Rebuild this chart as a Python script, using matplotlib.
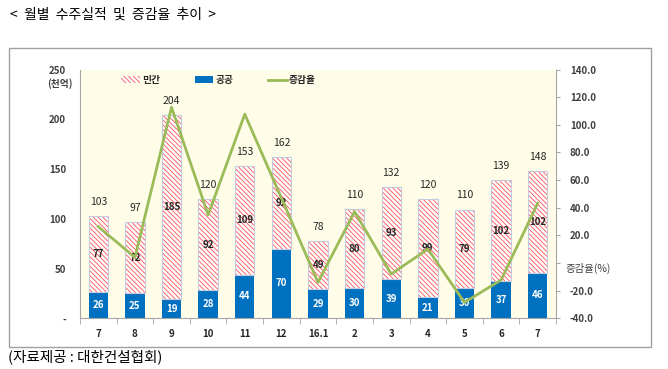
import numpy as np
import matplotlib
matplotlib.use("Agg")
import matplotlib.pyplot as plt
from matplotlib.patches import Rectangle
from matplotlib.lines import Line2D

plt.rcParams["font.family"] = ["Noto Sans CJK KR", "DejaVu Sans"]
plt.rcParams["hatch.linewidth"] = 0.6

# ── data ──────────────────────────────────────────────────────────────
months = ["7", "8", "9", "10", "11", "12", "16.1", "2", "3", "4", "5", "6", "7"]
private = [77, 72, 185, 92, 109, 92, 49, 80, 93, 99, 79, 102, 102]
public = [26, 25, 19, 28, 44, 70, 29, 30, 39, 21, 30, 37, 46]
totals = [103, 97, 204, 120, 153, 162, 78, 110, 132, 120, 110, 139, 148]
change = [26.3, 4.1, 112.7, 34.8, 107.7, 47.0, -14.0, 37.2, -8.0, 10.1, -28.5, -12.3, 43.2]
left_ticks = [0, 50, 100, 150, 200, 250]
left_tick_labels = ["-", "50", "100", "150", "200", "250"]
right_ticks = [-40, -20, 0, 20, 40, 60, 80, 100, 120, 140]

BLUE = "#0070C0"
RED = "#FF5050"
GREEN = "#9BBB59"
GRID = "#A6A6A6"
TXT = "#404040"
HATCH = "\\" * 7

fig = plt.figure(figsize=(6.68, 3.69), dpi=100)
ax = fig.add_axes([80 / 668, 1 - 318.3 / 369, 476 / 668, 248.8 / 369])
ax.set_facecolor("#FFFDE8")

x = np.arange(len(months))
w = 0.53

ax.bar(x, public, w, color=BLUE, linewidth=0, zorder=2)
ax.bar(x, private, w, bottom=public, color="white", edgecolor=RED,
       hatch=HATCH, linewidth=0, zorder=2)
ax.bar(x, private, w, bottom=public, fill=False, edgecolor="#C3CBE0",
       linewidth=0.8, zorder=2)

for i in range(len(months)):
    ax.text(x[i], public[i] / 2, str(public[i]), ha="center", va="center",
            color="white", fontsize=7, fontweight="bold", zorder=5)
    ax.text(x[i], public[i] + private[i] / 2, str(private[i]), ha="center",
            va="center", color="#262626", fontsize=7, fontweight="bold", zorder=5)
    ax.text(x[i], totals[i] + 14, str(totals[i]), ha="center", va="center",
            color="#262626", fontsize=7.5, zorder=5)

ax.set_xlim(-0.5, len(months) - 0.5)
ax.set_ylim(0, 250)
ax.set_yticks(left_ticks)
ax.set_yticklabels(left_tick_labels)
ax.set_xticks(x)
ax.set_xticklabels(months, fontweight="bold")
ax.set_xticks(np.arange(-0.5, len(months)), minor=True)
ax.tick_params(axis="x", which="major", length=0, pad=8, labelsize=7, labelcolor="#262626")
ax.tick_params(axis="x", which="minor", length=4, color=GRID, direction="out")
ax.tick_params(axis="y", length=0, pad=10, labelsize=7, labelcolor=TXT)
for lab in ax.get_yticklabels():
    lab.set_fontweight("bold")
for s in ["top", "right"]:
    ax.spines[s].set_visible(False)
for s in ["left", "bottom"]:
    ax.spines[s].set_color(GRID)
    ax.spines[s].set_linewidth(0.8)

ax2 = ax.twinx()
ax2.plot(x, change, color=GREEN, linewidth=2.0, zorder=4)
ax2.set_ylim(-40, 140)
ax2.set_yticks(right_ticks)
ax2.set_yticklabels(["" if t == 0 else f"{t:.1f}" for t in right_ticks])
ax2.tick_params(axis="y", length=3, color=GRID, pad=7, labelsize=7, labelcolor=TXT)
for lab in ax2.get_yticklabels():
    lab.set_fontweight("bold")
for s in ["top", "left", "bottom"]:
    ax2.spines[s].set_visible(False)
ax2.spines["right"].set_color(GRID)
ax2.spines["right"].set_linewidth(0.8)
ax2.text(1.02, 0, "증감율(%)", transform=ax2.get_yaxis_transform(),
         ha="left", va="top", fontsize=7.5, color=TXT)

# unit label
fig.text(60 / 668, 1 - 84 / 369, "(천억)", ha="center", va="center",
         fontsize=7, fontweight="bold", color=TXT)

# legend
handles = [
    Rectangle((0, 0), 1, 1, facecolor="white", edgecolor=RED, hatch=HATCH, linewidth=0),
    Rectangle((0, 0), 1, 1, facecolor=BLUE, linewidth=0),
    Line2D([0], [0], color=GREEN, linewidth=2.0),
]
leg = ax2.legend(handles, ["민간", "공공", "증감율"], ncol=3, loc="center left",
                 bbox_to_anchor=(0.087, 0.958), frameon=False, fontsize=7,
                 handlelength=1.9, handleheight=0.7, handletextpad=0.2,
                 columnspacing=3.6, borderpad=0, borderaxespad=0)
for t in leg.get_texts():
    t.set_fontweight("bold")
    t.set_color("#262626")

# outer frame
fig.patches.append(Rectangle((9 / 668, 1 - 347 / 369), 642 / 668, 298.7 / 369,
                             transform=fig.transFigure, fill=False,
                             edgecolor="#A0A0A0", linewidth=1))

fig.text(10 / 668, 1 - 15 / 369, "<  월별  수주실적  및  증감율  추이  >", ha="left",
         va="center", fontsize=10, color="black")
fig.text(8 / 668, 1 - 357 / 369, "(자료제공 : 대한건설협회)", ha="left",
         va="center", fontsize=10.5, color="black")

fig.savefig("out.png", dpi=100)
